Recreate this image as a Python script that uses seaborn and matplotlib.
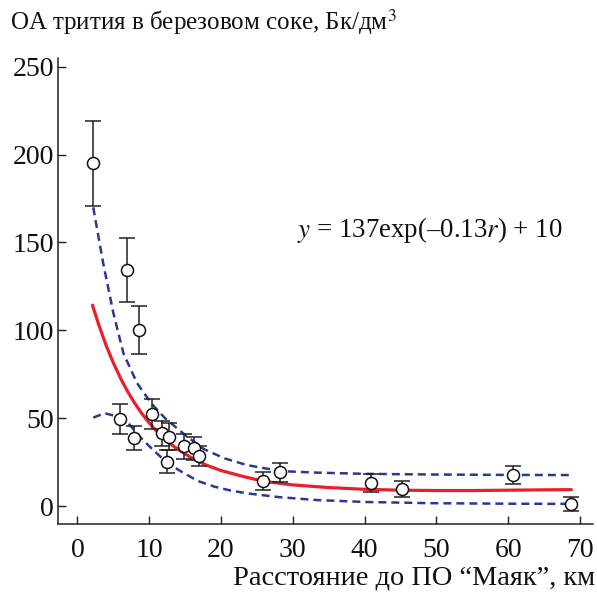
import numpy as np
import pandas as pd
import seaborn as sns
import matplotlib.pyplot as plt

# measured points: distance (km), tritium activity (Bq/dm3), error
dist = [2.2, 6.9, 8.6, 5.95, 7.9, 10.45, 11.8, 12.8, 12.5, 14.85, 16.3, 16.95,
        25.8, 28.2, 40.9, 45.2, 60.6, 68.8]
act = [195.0, 134.3, 100.2, 49.5, 38.5, 52.4, 41.4, 39.3, 25.2, 34.1, 32.8, 28.6,
       14.4, 19.2, 12.9, 9.7, 17.6, 1.1]
err = [24.3, 18.3, 13.7, 8.3, 6.8, 8.5, 7.1, 7.7, 6.5, 7.1, 6.6, 5.7,
       5.2, 5.4, 5.2, 4.6, 5.1, 3.8]

# fitted curve
fit_x = [2.1, 3, 4, 5, 6, 7, 8, 9, 10, 11, 12, 13, 14, 16, 18, 20, 23, 26, 30,
         35, 40, 45, 50, 55, 60, 65, 68.8]
fit_y = [114.3, 102.8, 91.4, 81.5, 72.8, 65.1, 58.4, 52.5, 47.3, 42.8, 38.8, 35.3,
         32.2, 27.1, 23.2, 20.2, 16.9, 14.0, 12.0, 10.5, 9.5, 9.0, 8.8, 8.8, 9.0,
         9.2, 9.3]

# confidence band, upper and lower
up_x = [2.2, 3.6, 5.0, 6.4, 8.3, 9.4, 10.6, 12.2, 15.0, 17.6, 20.5, 23.6, 28.2,
        33.3, 40, 50, 60, 69]
up_y = [170, 138, 110, 87, 70, 63.5, 57, 50, 40.4, 32.4, 27.1, 23.3, 19.9,
        19.0, 18.3, 17.9, 17.7, 17.6]
lo_x = [2.2, 3.8, 5.7, 7.1, 8.9, 10.8, 12.6, 14.5, 16.8, 19.1, 21.0, 23.6, 28.2,
        33.3, 40, 49.3, 60, 69]
lo_y = [50.3, 52.8, 50.8, 47.1, 38.5, 30.9, 24.3, 19.5, 14.2, 11.0, 9.1, 7.2, 5.0,
        3.4, 2.3, 1.6, 1.3, 1.2]

sns.set_style("ticks")
plt.rcParams['font.family'] = ['Liberation Serif', 'DejaVu Serif']
plt.rcParams['mathtext.fontset'] = 'stix'

fig = plt.figure(figsize=(5.97, 5.92), dpi=100)
ax = fig.add_axes([0.0972, 0.115, 0.896, 0.787])

blue = '#2b3990'
red = '#e8202a'
sns.lineplot(x=up_x, y=up_y, ax=ax, color=blue, lw=1.8, dashes=(3.2, 2), sort=False)
sns.lineplot(x=lo_x, y=lo_y, ax=ax, color=blue, lw=1.8, dashes=(3.2, 2), sort=False)
sns.lineplot(x=fit_x, y=fit_y, ax=ax, color=red, lw=2.3, sort=False)

ax.errorbar(dist, act, yerr=err, fmt='none', ecolor='#222222', elinewidth=1.1,
            capsize=5.5, capthick=1.1, zorder=4)
pts = pd.DataFrame({'d': dist, 'a': act})
sns.scatterplot(data=pts, x='d', y='a', ax=ax, marker='o', s=75, facecolor='white',
                edgecolor='#111111', linewidth=1.1, zorder=5)

ax.set_xlim(-2.7, 71.8)
ax.set_ylim(-10.2, 255)
ax.set_xticks([0, 10, 20, 30, 40, 50, 60, 70])
ax.set_yticks([0, 50, 100, 150, 200, 250])
ax.tick_params(direction='in', length=6, width=1, labelsize=20,
               colors='#222222', labelcolor='#111111')
ax.tick_params(axis='x', pad=10)
ax.tick_params(axis='y', pad=3)
ax.set_xlabel('')
ax.set_ylabel('')
sns.despine(ax=ax)
for s in ['left', 'bottom']:
    ax.spines[s].set_color('#222222')
    ax.spines[s].set_linewidth(1.1)

ax.text(30.6, 157, r'$\mathit{y}$ = 137exp(–0.13$\mathit{r}$) + 10', fontsize=19.4,
        va='center', ha='left', color='#111111')

fig.text(10 / 597, 1 - 22 / 592, 'ОА трития в березовом соке, Бк/дм$^3$', fontsize=18,
         va='center', ha='left', color='#111111')
fig.text(595 / 597, 1 - 578 / 592, 'Расстояние до ПО “Маяк”, км', fontsize=20.4,
         va='center', ha='right', color='#111111')

fig.savefig('out.png', dpi=100)
